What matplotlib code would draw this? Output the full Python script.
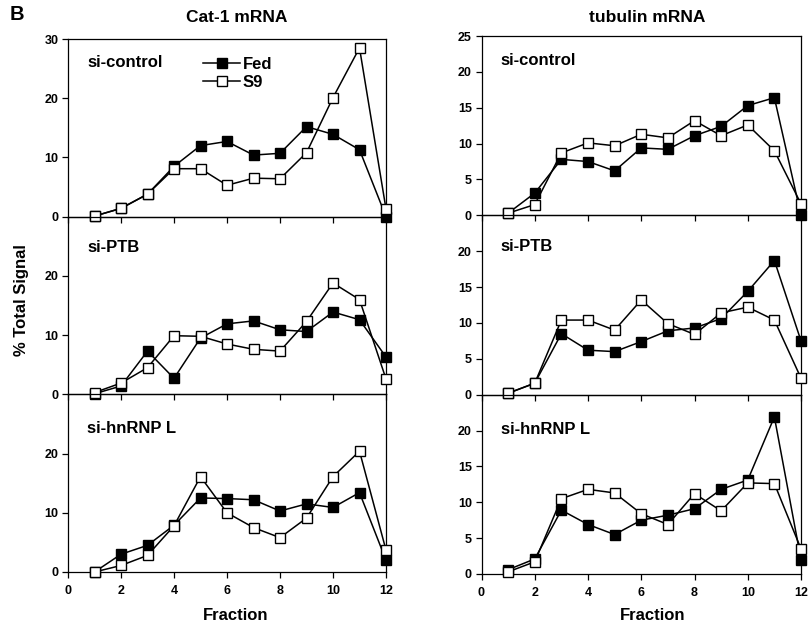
import matplotlib.pyplot as plt

plt.rcParams['font.family'] = ['Liberation Sans', 'DejaVu Sans']
plt.rcParams['font.weight'] = 'bold'

fraction = [1, 2, 3, 4, 5, 6, 7, 8, 9, 10, 11, 12]
conditions = ['si-control', 'si-PTB', 'si-hnRNP L']

# Cat-1 mRNA
cat1_fed = [
    [0.1, 1.4, 3.8, 8.5, 12.0, 12.7, 10.4, 10.7, 15.2, 13.9, 11.3, 0.0],
    [0.1, 1.4, 7.3, 2.7, 9.5, 11.9, 12.4, 10.9, 10.6, 13.9, 12.6, 6.3],
    [0.0, 3.0, 4.5, 7.9, 12.5, 12.4, 12.2, 10.3, 11.5, 10.9, 13.4, 2.0],
]
cat1_s9 = [
    [0.1, 1.4, 3.8, 8.1, 8.1, 5.3, 6.5, 6.4, 10.8, 20.1, 28.5, 1.3],
    [0.3, 1.9, 4.5, 9.9, 9.8, 8.5, 7.6, 7.3, 12.3, 18.8, 16.0, 2.6],
    [0.0, 1.1, 2.8, 7.8, 16.1, 10.0, 7.5, 5.8, 9.1, 16.1, 20.4, 3.7],
]

# tubulin mRNA
tub_fed = [
    [0.3, 3.1, 7.8, 7.5, 6.2, 9.4, 9.2, 11.1, 12.4, 15.3, 16.4, 0.0],
    [0.2, 1.6, 8.5, 6.2, 6.0, 7.4, 8.9, 9.3, 10.6, 14.4, 18.7, 7.5],
    [0.6, 2.1, 8.9, 6.9, 5.5, 7.5, 8.2, 9.1, 11.8, 13.1, 21.9, 2.0],
]
tub_s9 = [
    [0.3, 1.5, 8.7, 10.1, 9.7, 11.3, 10.8, 13.2, 11.1, 12.6, 9.0, 1.6],
    [0.2, 1.6, 10.4, 10.4, 9.0, 13.2, 9.9, 8.4, 11.4, 12.2, 10.4, 2.3],
    [0.3, 1.7, 10.5, 11.8, 11.3, 8.4, 6.9, 11.2, 8.8, 12.7, 12.6, 3.5],
]

W, H = 811, 629
fig = plt.figure(figsize=(W / 100, H / 100), dpi=100)


def draw_column(left, right, top, bottom, ymax, ystep, fed, s9, title, title_x, frac_x):
    h = (bottom - top) / 3
    axes = []
    for i in range(3):
        y0 = bottom - (3 - i) * h
        ax = fig.add_axes([left / W, 1 - (y0 + h) / H, (right - left) / W, h / H])
        ax.patch.set_alpha(0)
        ax.plot(fraction, fed[i], color='black', lw=1.1, marker='s', ms=7,
                mfc='black', mec='black', mew=1.0, clip_on=False, zorder=3, label='Fed')
        ax.plot(fraction, s9[i], color='black', lw=1.1, marker='s', ms=7,
                mfc='white', mec='black', mew=1.0, clip_on=False, zorder=4, label='S9')
        ax.set_xlim(0, 12)
        ax.set_ylim(0, ymax)
        ticks = list(range(0, ymax + 1, ystep))
        if i > 0:
            ticks = ticks[:-1]
        ax.set_yticks(ticks)
        ax.set_xticks(range(0, 13, 2))
        ax.tick_params(direction='out', length=4, width=0.9, labelsize=9, pad=3)
        if i < 2:
            ax.tick_params(axis='x', labelbottom=False)
        else:
            ax.tick_params(axis='x', pad=5)
        for lab in ax.get_xticklabels() + ax.get_yticklabels():
            lab.set_fontweight('bold')
        for sp in ax.spines.values():
            sp.set_linewidth(0.9)
        ax.text(0.06, [0.84, 0.80, 0.78][i], conditions[i], transform=ax.transAxes,
                fontsize=12, fontweight='bold', va='baseline', ha='left')
        axes.append(ax)
    fig.text(title_x / W, 1 - 17 / H, title, fontsize=12.5, fontweight='bold',
             ha='center', va='center')
    fig.text(frac_x / W, 1 - 615 / H, 'Fraction', fontsize=12, fontweight='bold',
             ha='center', va='center')
    return axes


left_axes = draw_column(68, 386, 39, 572, 30, 10, cat1_fed, cat1_s9, 'Cat-1 mRNA', 237, 236)
right_axes = draw_column(481.5, 801, 36, 574, 25, 5, tub_fed, tub_s9, 'tubulin mRNA', 647, 653)

left_axes[0].legend(loc='upper left', bbox_to_anchor=(0.415, 0.92), frameon=False,
                    handlelength=2.2, handletextpad=0.15,
                    labelspacing=0.2, borderaxespad=0, borderpad=0.2,
                    prop={'weight': 'bold', 'size': 12})

fig.text(22 / W, 1 - 300 / H, '% Total Signal', rotation=90, fontsize=12,
         fontweight='bold', ha='center', va='center')
fig.text(10 / W, 1 - 15 / H, 'B', fontsize=14.5, fontweight='bold', ha='left', va='center')

fig.savefig('out.png', dpi=100)
